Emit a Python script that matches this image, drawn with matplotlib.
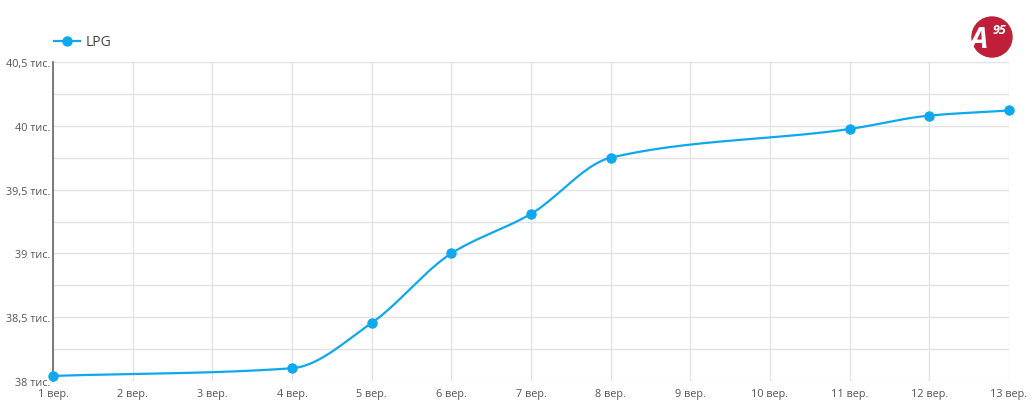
import numpy as np
import matplotlib
matplotlib.use("Agg")
import matplotlib.pyplot as plt
from matplotlib.patches import Circle
from matplotlib.lines import Line2D

plt.rcParams['font.family'] = ['Open Sans', 'DejaVu Sans']

days = [1, 4, 5, 6, 7, 8, 11, 12, 13]
values = [38.04, 38.10, 38.455, 39.00, 39.31, 39.75, 39.975, 40.08, 40.12]
x_ticks = list(range(1, 14))
x_labels = [f"{d} вер." for d in x_ticks]
y_ticks = [38.0, 38.5, 39.0, 39.5, 40.0, 40.5]
y_labels = ["38 тис.", "38,5 тис.", "39 тис.", "39,5 тис.", "40 тис.", "40,5 тис."]
series_name = "LPG"
color = "#0fa8ee"


def monotone_curve(x, y, n=40):
    x = np.asarray(x, float)
    y = np.asarray(y, float)
    h = np.diff(x)
    d = np.diff(y) / h
    m = np.zeros_like(y)
    m[0] = d[0]
    m[-1] = d[-1]
    for i in range(1, len(x) - 1):
        if d[i - 1] * d[i] <= 0:
            m[i] = 0
        else:
            w1 = 2 * h[i] + h[i - 1]
            w2 = h[i] + 2 * h[i - 1]
            m[i] = (w1 + w2) / (w1 / d[i - 1] + w2 / d[i])
    xs, ys = [], []
    for i in range(len(x) - 1):
        t = np.linspace(0, 1, n)
        hh = h[i]
        h00 = 2 * t**3 - 3 * t**2 + 1
        h10 = t**3 - 2 * t**2 + t
        h01 = -2 * t**3 + 3 * t**2
        h11 = t**3 - t**2
        xs.append(x[i] + t * hh)
        ys.append(h00 * y[i] + h10 * hh * m[i] + h01 * y[i + 1] + h11 * hh * m[i + 1])
    return np.concatenate(xs), np.concatenate(ys)


fig = plt.figure(figsize=(10.34, 4.14), dpi=100)
ax = fig.add_axes([53 / 1034, 1 - 382 / 414, (1009 - 53) / 1034, (382 - 63) / 414])

cx, cy = monotone_curve(days, values)
ax.plot(cx, cy, color=color, lw=1.6, zorder=3, clip_on=False)
ax.plot(days, values, 'o', color=color, ms=6.5, zorder=4, clip_on=False)

ax.set_xlim(1, 13)
ax.set_ylim(38, 40.5)
ax.set_xticks(x_ticks)
ax.set_xticklabels(x_labels)
ax.set_yticks(y_ticks)
ax.set_yticklabels(y_labels)
ax.set_yticks(np.arange(38, 40.51, 0.25), minor=True)
ax.grid(True, which='major', color='#e3e3e3', lw=1)
ax.grid(True, which='minor', axis='y', color='#e3e3e3', lw=1)
ax.tick_params(which='both', length=0)
ax.tick_params(axis='x', pad=5, labelsize=7.8, colors='#555555')
ax.tick_params(axis='y', pad=2, labelsize=7.8, colors='#555555')
for s in ['top', 'right', 'bottom']:
    ax.spines[s].set_visible(False)
ax.spines['left'].set_color('#666666')
ax.spines['left'].set_linewidth(1.2)
ax.set_axisbelow(True)

# legend
fig.add_artist(Line2D([54 / 1034, 80 / 1034], [1 - 42 / 414] * 2, color=color, lw=1.6,
                      transform=fig.transFigure))
fig.add_artist(Line2D([67 / 1034], [1 - 42 / 414], marker='o', color=color, ms=6.5,
                      transform=fig.transFigure))
fig.text(86 / 1034, 1 - 42 / 414, series_name, fontsize=10, color='#444444', va='center')

# logo (circle in inches)
fig.add_artist(Circle((9.92, 4.14 - 0.38), 0.2, transform=fig.dpi_scale_trans,
                      color='#c01f3a', zorder=5))
fig.text(979 / 1034, 1 - 41 / 414, "A", fontsize=21, fontweight='bold', style='italic',
         color='white', ha='center', va='center', zorder=6)
fig.text(999 / 1034, 1 - 30 / 414, "95", fontsize=9, fontweight='bold', style='italic',
         color='white', ha='center', va='center', zorder=6)

fig.savefig("out.png", dpi=100)
